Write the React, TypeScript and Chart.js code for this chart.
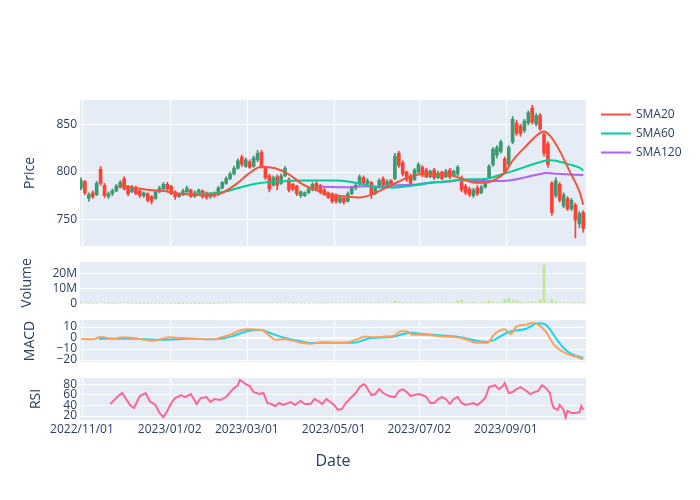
import React, { useEffect, useRef } from 'react';
import { Chart, registerables } from 'chart.js';

Chart.register(...registerables);

// ---- Candles: one candle per 2 trading days (trading-day index = 2 * position) ----
const candleOpen = [
  783, 790, 772, 778, 776, 803, 786, 774, 777, 780,
  784, 793, 785, 779, 783, 780, 775, 777, 774, 772,
  779, 782, 787, 785, 779, 774, 776, 779, 781, 774,
  777, 780, 778, 774, 778, 776, 783, 788, 793, 798,
  804, 816, 806, 811, 806, 813, 821, 805, 796, 786,
  795, 788, 796, 792, 787, 785, 775, 775, 778, 781,
  788, 786, 781, 778, 777, 775, 768, 772, 769, 777,
  783, 787, 794, 788, 789, 777, 784, 793, 786, 791,
  793, 820, 810, 800, 796, 792, 800, 805, 802, 795,
  802, 794, 800, 795, 802, 796, 798, 794, 785, 782,
  775, 783, 778, 784, 794, 808, 818, 822, 814, 808,
  832, 852, 849, 844, 852, 868, 851, 860, 840, 830,
  788, 775, 787, 764, 772, 761, 765, 745, 757,
];
const candleHigh = [
  794, 791, 778, 780, 790, 806, 788, 779, 782, 787,
  791, 795, 786, 786, 785, 781, 779, 778, 775, 780,
  785, 789, 789, 786, 780, 778, 782, 785, 782, 780,
  782, 781, 779, 778, 779, 785, 790, 795, 800, 806,
  814, 818, 815, 813, 817, 823, 823, 806, 798, 796,
  797, 798, 806, 794, 788, 786, 780, 779, 783, 789,
  790, 787, 783, 779, 778, 777, 774, 773, 779, 785,
  788, 797, 796, 793, 790, 784, 793, 795, 792, 792,
  820, 822, 812, 801, 798, 804, 810, 807, 804, 802,
  804, 801, 801, 803, 804, 802, 807, 796, 787, 784,
  783, 786, 786, 793, 808, 826, 828, 834, 816, 828,
  859, 855, 851, 856, 865, 871, 862, 862, 842, 832,
  790, 794, 789, 778, 774, 772, 767, 758, 759,
];
const candleLow = [
  781, 776, 769, 772, 775, 786, 773, 772, 775, 779,
  783, 781, 775, 778, 776, 773, 773, 768, 766, 771,
  778, 781, 780, 776, 771, 773, 775, 778, 773, 773,
  776, 772, 771, 772, 773, 775, 782, 787, 792, 797,
  803, 806, 805, 804, 805, 811, 804, 792, 779, 785,
  781, 787, 795, 779, 780, 775, 773, 774, 777, 780,
  781, 777, 775, 772, 767, 767, 767, 766, 768, 776,
  781, 786, 787, 787, 772, 776, 783, 784, 785, 786,
  792, 805, 796, 790, 786, 791, 798, 795, 794, 794,
  792, 793, 792, 794, 793, 795, 796, 779, 776, 774,
  773, 775, 777, 783, 793, 806, 815, 820, 799, 806,
  830, 839, 838, 842, 850, 851, 849, 844, 817, 805,
  754, 773, 768, 762, 759, 759, 730, 741, 736,
];
const candleClose = [
  791, 778, 776, 774, 788, 788, 775, 777, 780, 785,
  789, 782, 777, 784, 777, 775, 778, 770, 769, 779,
  783, 787, 782, 777, 774, 777, 780, 783, 774, 778,
  781, 774, 773, 777, 775, 783, 789, 793, 798, 804,
  812, 808, 813, 805, 815, 820, 806, 794, 782, 794,
  786, 796, 804, 781, 782, 777, 779, 778, 782, 787,
  782, 779, 776, 773, 769, 769, 773, 768, 777, 783,
  786, 795, 788, 791, 776, 783, 791, 786, 790, 787,
  817, 807, 798, 792, 788, 802, 808, 797, 795, 801,
  794, 799, 793, 801, 795, 801, 805, 781, 778, 776,
  781, 777, 784, 791, 806, 824, 826, 832, 800, 826,
  856, 841, 841, 854, 863, 853, 860, 846, 820, 808,
  757, 791, 770, 776, 761, 770, 749, 756, 740,
];
// Volume in millions of shares, same positions as the candles
const volumeMillions = [
  0.4, 0.5, 0.3, 0.3, 0.4, 0.6, 0.4, 0.3, 0.3, 0.3,
  0.4, 0.5, 0.3, 0.3, 0.3, 0.3, 0.2, 0.3, 0.4, 0.3,
  0.3, 0.4, 0.3, 0.3, 0.3, 0.2, 0.2, 0.3, 0.3, 0.2,
  0.2, 0.3, 0.3, 0.2, 0.2, 0.3, 0.4, 0.4, 0.5, 0.5,
  0.7, 0.8, 0.6, 0.6, 0.6, 0.8, 0.9, 0.8, 0.9, 0.6,
  0.5, 0.6, 0.7, 0.6, 0.5, 0.5, 0.4, 0.5, 0.5, 0.6,
  0.5, 0.5, 0.5, 0.5, 0.6, 0.6, 0.5, 0.5, 0.6, 0.6,
  0.6, 0.8, 0.7, 0.6, 0.8, 0.6, 0.6, 0.7, 0.6, 0.6,
  2.0, 1.3, 1.0, 0.8, 0.7, 0.9, 1.1, 0.8, 0.7, 0.6,
  0.7, 0.6, 0.6, 0.6, 0.7, 1.1, 2.0, 2.6, 1.0, 0.9,
  1.3, 0.9, 1.0, 1.2, 2.2, 1.3, 1.0, 1.1, 3.0, 3.9,
  2.6, 2.0, 1.2, 1.0, 1.1, 1.5, 1.2, 2.8, 25.5, 1.2,
  3.0, 1.7, 1.0, 0.9, 0.8, 0.8, 1.0, 0.9, 1.0,
];

// ---- Indicator lines: [trading-day index, value] ----
const sma20: [number, number][] = [
  [19, 785], [22, 785], [28, 783], [35, 781], [43, 779.6], [50, 777], [58, 776], [63, 775],
  [72, 778], [80, 788.6], [85, 797.5], [92, 805.7], [99, 804], [106, 797.5], [113, 787],
  [119, 781.5], [126, 776], [131, 775], [135, 774], [142, 773], [148, 776], [155, 783],
  [162, 790], [167, 794.6], [174, 798], [180, 798], [188, 797], [194, 793], [200, 789],
  [206, 788.6], [211, 792], [216, 799.3], [220, 812], [227, 828], [233, 840], [236, 843],
  [239, 838.6], [244, 822.5], [249, 801], [254, 779.7], [256, 765.4],
];
const sma60: [number, number][] = [
  [59, 778], [63, 777], [72, 778.6], [80, 783], [89, 787.5], [97, 789.7], [106, 790.4],
  [114, 791], [123, 791], [130, 791], [137, 789.7], [145, 786.5], [153, 783.5], [162, 784],
  [170, 786], [179, 788.6], [188, 790.4], [195, 792], [207, 793], [215, 798], [220, 801],
  [230, 808], [236, 811.8], [239, 812.5], [244, 811], [249, 808], [254, 804.6], [256, 801.8],
];
const sma120: [number, number][] = [
  [122, 784.6], [128, 784.2], [137, 784], [144, 785], [153, 784.4], [161, 786], [170, 786.5],
  [178, 789], [188, 790], [193, 791.5], [202, 790.4], [210, 790.4], [218, 791], [227, 794.6],
  [233, 797.5], [237, 799], [243, 798.2], [256, 796.8],
];
const macdLine: [number, number][] = [
  [0, -0.6], [6, -1.2], [10, 0.9], [17, -0.6], [21, 0.6], [28, -0.3], [37, -2.4], [45, 0.6],
  [51, 0], [61, -0.9], [68, -1.2], [72, 0.9], [77, 3.6], [80, 6.4], [85, 7.9], [92, 7.3],
  [96, 2.4], [99, -1.5], [104, -1.2], [112, -4.2], [117, -5.2], [123, -3.6], [130, -4.2],
  [135, -4.2], [140, -1.8], [145, 1.5], [149, 0.6], [155, 1.5], [159, 1.8], [163, 6.1],
  [166, 6.1], [169, 3], [174, 3], [184, 1.5], [194, 0], [202, -4.2], [207, -4.2], [211, 3.9],
  [216, 7.9], [219, 3.6], [222, 10.6], [227, 12.1], [230, 13.9], [233, 12.4], [237, 5.5],
  [241, -6], [245, -11.8], [249, -15.2], [253, -17.3], [256, -19.7],
];
const signalLine: [number, number][] = [
  [9, -0.6], [28, -0.6], [41, -1.5], [57, -0.6], [68, -1.2], [77, 1.5], [84, 6], [92, 7.3],
  [96, 4.8], [104, 0], [112, -3], [117, -4.5], [130, -4.2], [139, -4.2], [147, -0.3],
  [159, 1.2], [168, 4.8], [174, 3.6], [194, 0.6], [206, -3.6], [210, -2.1], [218, 5.5],
  [227, 8.5], [233, 13.5], [236, 13], [239, 8], [242, 0], [246, -9], [250, -14.5],
  [254, -17], [256, -18.2],
];
const rsiLine: [number, number][] = [
  [15, 42.6], [19, 57.6], [21, 63.2], [25, 40.7], [27, 35.1], [30, 57.6], [33, 63.2],
  [35, 48.2], [38, 40.7], [40, 25.8], [42, 18], [44, 29.5], [46, 44.5], [48, 53.8],
  [51, 59.4], [53, 55.7], [56, 61.3], [59, 42.6], [61, 53.8], [64, 55.7], [66, 46.3],
  [68, 52], [71, 50], [74, 55.7], [76, 65], [78, 72.5], [80, 78], [81, 88], [84, 80],
  [86, 76.3], [88, 65], [91, 61.3], [93, 63.2], [95, 44.5], [97, 42.6], [99, 38.9],
  [101, 44.5], [103, 40.7], [107, 46.3], [109, 40.7], [112, 48.2], [114, 42.6], [117, 42.6],
  [119, 52], [121, 48.2], [123, 42.6], [125, 52], [127, 46.3], [129, 40.7], [131, 31.4],
  [133, 33.2], [135, 44.5], [137, 52], [140, 63.2], [142, 74.4], [144, 80], [145, 78],
  [148, 59.4], [150, 61.3], [152, 70.6], [154, 63.2], [157, 57.6], [160, 55.7], [162, 67],
  [164, 70.6], [166, 65], [168, 57.6], [170, 59.4], [172, 61.3], [174, 59.4], [176, 55.7],
  [178, 44.5], [180, 44.5], [182, 52], [184, 55.7], [186, 52], [188, 42.6], [190, 52],
  [192, 55.7], [194, 44.5], [196, 40.7], [198, 42.6], [200, 44.5], [202, 40.7], [204, 46.3],
  [206, 53.8], [208, 74.4], [211, 78], [213, 70.6], [215, 76.3], [216, 82], [218, 63.2],
  [220, 65], [222, 70.6], [224, 74.4], [227, 67], [229, 61.3], [231, 65], [233, 67],
  [235, 78], [237, 72.5], [239, 63.2], [240, 44.5], [241, 35.1], [243, 31.4], [244, 40.7],
  [246, 31.4], [247, 17], [248, 29.5], [250, 25.8], [252, 25.8], [254, 27], [255, 39],
  [256, 31.4],
];

// ---- Axis ticks ----
const tickDays = [0.5, 45.2, 84.5, 128.8, 172.4, 216.5];
const tickLabels = ['2022/11/01', '2023/01/02', '2023/03/01', '2023/05/01', '2023/07/02', '2023/09/01'];
const priceTicks = [750, 800, 850];
const volumeTicks = [0, 10e6, 20e6];
const macdTicks = [-20, -10, 0, 10];
const rsiTicks = [20, 40, 60, 80];

const FONT = "'Open Sans', 'Noto Sans', sans-serif";
const INK = '#2a3f5f';
const PANEL_BG = '#E5ECF6';

const pairs = (arr: [number, number][]) => arr.map(([x, y]) => ({ x, y }));

export default function App() {
  const ref = useRef<HTMLCanvasElement>(null);

  useEffect(() => {
    const canvas = ref.current;
    if (!canvas) return;
    Chart.defaults.font.family = FONT;

    const up = '#3D9970';
    const down = '#FF4136';
    const days = candleOpen.map((_, i) => i * 2);
    const colors = candleClose.map((c, i) => (c >= candleOpen[i] ? up : down));

    const panelsPlugin: any = {
      id: 'panels',
      beforeDraw(chart: any) {
        const { ctx, chartArea, scales } = chart;
        ctx.save();
        ctx.fillStyle = PANEL_BG;
        ['yPrice', 'yVol', 'yMacd', 'yRsi'].forEach((id) => {
          const s = scales[id];
          ctx.fillRect(chartArea.left, s.top, chartArea.right - chartArea.left, s.bottom - s.top);
        });
        ctx.strokeStyle = '#ffffff';
        ctx.lineWidth = 1;
        ['yPrice', 'yMacd', 'yRsi'].forEach((id) => {
          const s = scales[id];
          tickDays.forEach((d) => {
            const px = Math.round(scales.x.getPixelForValue(d)) + 0.5;
            ctx.beginPath();
            ctx.moveTo(px, s.top);
            ctx.lineTo(px, s.bottom);
            ctx.stroke();
          });
        });
        ctx.restore();
      },
      afterDraw(chart: any) {
        const { ctx } = chart;
        ctx.save();
        const items = chart.data.datasets.filter((d: any) => d.showInLegend);
        items.forEach((d: any, i: number) => {
          const y = 114.5 + i * 19;
          ctx.strokeStyle = d.borderColor;
          ctx.lineWidth = 2;
          ctx.beginPath();
          ctx.moveTo(601, y);
          ctx.lineTo(631, y);
          ctx.stroke();
          ctx.fillStyle = INK;
          ctx.font = `12px ${FONT}`;
          ctx.textBaseline = 'middle';
          ctx.textAlign = 'left';
          ctx.fillText(d.label, 636, y);
        });
        ctx.restore();
      },
    };

    const yAxis = (
      title: string, titlePad: number, weight: number, stackWeight: number,
      min: number, max: number, tickValues: number[], fmt?: (v: number) => string,
    ) => ({
      type: 'linear',
      position: 'left',
      stack: 'panels',
      stackWeight,
      weight,
      min,
      max,
      border: { display: false },
      grid: {
        color: '#ffffff',
        drawTicks: false,
        lineWidth: (c: any) => (c.tick && c.tick.value === 0 ? 2 : 1),
      },
      afterBuildTicks: (s: any) => { s.ticks = tickValues.map((v) => ({ value: v })); },
      ticks: {
        color: INK,
        font: { size: 12, family: FONT },
        padding: 3,
        autoSkip: false,
        includeBounds: false,
        callback: (v: number) => (fmt ? fmt(v) : `${v}`),
      },
      title: { display: true, text: title, color: INK, font: { size: 14, family: FONT }, padding: { top: titlePad, bottom: 0 } },
      afterFit: (s: any) => { s.width = 80; },
    });

    const gapAxis = (weight: number) => ({
      type: 'linear',
      position: 'left',
      stack: 'panels',
      stackWeight: 16,
      weight,
      border: { display: false },
      grid: { display: false, drawTicks: false },
      ticks: { display: false },
      afterFit: (s: any) => { s.width = 80; },
    });

    const line = (label: string, data: [number, number][], color: string, yAxisID: string, smooth: boolean, legend: boolean) => ({
      type: 'line',
      label,
      data: pairs(data),
      yAxisID,
      borderColor: color,
      backgroundColor: color,
      borderWidth: 2,
      pointRadius: 0,
      fill: false,
      cubicInterpolationMode: smooth ? 'monotone' : 'default',
      tension: 0,
      order: 0,
      showInLegend: legend,
    });

    const minus = (v: number) => (v < 0 ? `\u2212${Math.abs(v)}` : `${v}`);

    const config: any = {
      type: 'bar',
      data: {
        datasets: [
          line('SMA20', sma20, '#EF553B', 'yPrice', true, true),
          line('SMA60', sma60, '#00CC96', 'yPrice', true, true),
          line('SMA120', sma120, '#AB63FA', 'yPrice', true, true),
          line('MACD', macdLine, '#FFA15A', 'yMacd', true, false),
          line('Signal', signalLine, '#19D3F3', 'yMacd', true, false),
          line('RSI', rsiLine, '#FF6692', 'yRsi', false, false),
          {
            type: 'bar',
            label: 'Body',
            data: days.map((d, i) => ({ x: d, y: [candleOpen[i], candleClose[i]] })),
            yAxisID: 'yPrice',
            backgroundColor: colors,
            barThickness: 3,
            grouped: false,
            order: 1,
          },
          {
            type: 'bar',
            label: 'Wick',
            data: days.map((d, i) => ({ x: d, y: [candleLow[i], candleHigh[i]] })),
            yAxisID: 'yPrice',
            backgroundColor: colors,
            barThickness: 1,
            grouped: false,
            order: 2,
          },
          {
            type: 'bar',
            label: 'Volume',
            data: days.map((d, i) => ({ x: d, y: volumeMillions[i] * 1e6 })),
            yAxisID: 'yVol',
            backgroundColor: 'rgba(182,232,128,0.8)',
            barThickness: 2,
            grouped: false,
            order: 3,
          },
        ],
      },
      options: {
        responsive: false,
        devicePixelRatio: 1,
        animation: false,
        events: [],
        layout: { padding: { left: 0, right: 114, top: 100, bottom: 0 } },
        plugins: { legend: { display: false }, tooltip: { enabled: false } },
        scales: {
          x: {
            type: 'linear',
            position: 'bottom',
            min: -0.5,
            max: 257.4,
            offset: false,
            border: { display: false },
            grid: { display: false, drawTicks: false, offset: false },
            afterBuildTicks: (s: any) => { s.ticks = tickDays.map((v) => ({ value: v })); },
            ticks: {
              autoSkip: false,
              maxRotation: 0,
              minRotation: 0,
              padding: 2,
              color: INK,
              font: { size: 12, family: FONT },
              callback: (_v: any, i: number) => tickLabels[i],
            },
            title: { display: true, text: 'Date', color: INK, font: { size: 16, family: FONT }, padding: { top: 4, bottom: 29 } },
            afterFit: (s: any) => { s.height = 80; },
          },
          yPrice: yAxis('Price', 22, 7, 146, 721.5, 876.5, priceTicks),
          gap1: gapAxis(6),
          yVol: yAxis('Volume', 18.5, 5, 42, 0, 27.4e6, volumeTicks, (v) => (v === 0 ? '0' : `${v / 1e6}M`)),
          gap2: gapAxis(4),
          yMacd: yAxis('MACD', 21.5, 3, 42, -21.8, 16.4, macdTicks, minus),
          gap3: gapAxis(2),
          yRsi: yAxis('RSI', 27.5, 1, 42, 12.5, 91.5, rsiTicks),
        },
      },
      plugins: [panelsPlugin],
    };

    const chart = new Chart(canvas, config);
    return () => chart.destroy();
  }, []);

  return (
    <div style={{ position: 'absolute', left: 0, top: 0, width: 700, height: 500, background: '#ffffff' }}>
      <canvas ref={ref} width={700} height={500} style={{ display: 'block', width: 700, height: 500 }} />
    </div>
  );
}
